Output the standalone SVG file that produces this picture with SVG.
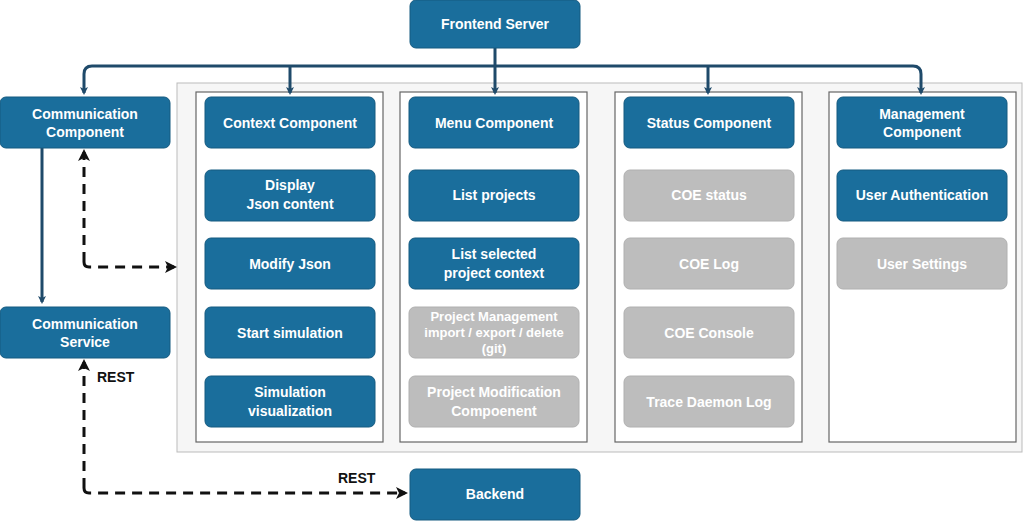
<svg xmlns="http://www.w3.org/2000/svg" width="1024" height="522" viewBox="0 0 1024 522">
<style>
.b{fill:#1a6e9c;stroke:#155a80;stroke-width:1}
.g{fill:#bdbdbd;stroke:#b0b0b0;stroke-width:1}
.t{font-family:"Liberation Sans",Arial,sans-serif;font-weight:bold;font-size:14px;fill:#fff;text-anchor:middle}
.tl{font-size:13px}
.c{fill:none;stroke:#1f4a6a;stroke-width:3}
.d{fill:none;stroke:#111;stroke-width:3;stroke-dasharray:10 7}
.lab{font-family:"Liberation Sans",Arial,sans-serif;font-weight:bold;font-size:14px;fill:#111}
</style>
<defs>
<marker id="a" markerWidth="8" markerHeight="8" refX="6" refY="4" orient="auto" markerUnits="userSpaceOnUse" viewBox="0 0 8 8"><path d="M0,0 L8,4 L0,8 L2,4 Z" fill="#1f4a6a"/></marker>
<marker id="k" markerWidth="12" markerHeight="12" refX="9" refY="6" orient="auto" markerUnits="userSpaceOnUse" viewBox="0 0 12 12"><path d="M0,0 L12,6 L0,12 L3,6 Z" fill="#111"/></marker>
</defs>
<rect x="177" y="83" width="845" height="369" fill="#f6f6f6" stroke="#bbb"/>
<g fill="#fff" stroke="#666" stroke-width="1.2">
<rect x="196" y="92" width="187" height="350"/>
<rect x="400" y="92" width="187" height="350"/>
<rect x="615" y="92" width="187" height="350"/>
<rect x="829" y="92" width="187" height="350"/>
</g>
<g id="connectors">
<path class="c" d="M495,48 V66 M92,66 H913"/>
<path class="c" d="M92,66 Q84,66 84,74 V93" marker-end="url(#a)"/>
<path class="c" d="M913,66 Q921,66 921,74 V93" marker-end="url(#a)"/>
<path class="c" d="M290,66 V93" marker-end="url(#a)"/>
<path class="c" d="M495,66 V93" marker-end="url(#a)"/>
<path class="c" d="M708,66 V93" marker-end="url(#a)"/>
<path class="c" d="M42,148 V302" marker-end="url(#a)"/>
<path class="d" d="M84,262 Q84,267 89,267 H174" marker-end="url(#k)"/>
<path class="d" d="M84,262 V152" marker-end="url(#k)"/>
<path class="d" d="M84,488 V362" marker-end="url(#k)"/>
<path class="d" d="M84,488 Q84,493 89,493 H405" marker-end="url(#k)"/>
<text class="lab" x="97" y="382">REST</text>
<text class="lab" x="338" y="483">REST</text>
</g>
<g id="frontend"><rect class="b" x="410" y="0" width="170" height="48" rx="6"/><text class="t" x="495" y="29">Frontend Server</text></g>
<g id="commcomp"><rect class="b" x="0" y="97" width="170" height="51" rx="6"/><text class="t" x="85" y="119">Communication</text><text class="t" x="85" y="137">Component</text></g>
<g id="commserv"><rect class="b" x="0" y="307" width="170" height="51" rx="6"/><text class="t" x="85" y="329">Communication</text><text class="t" x="85" y="347">Service</text></g>
<g id="backend"><rect class="b" x="410" y="469" width="170" height="51" rx="6"/><text class="t" x="495" y="499">Backend</text></g>
<g id="context"><rect class="b" x="205" y="97" width="170" height="51" rx="6"/><text class="t" x="290" y="128">Context Component</text></g>
<g id="display"><rect class="b" x="205" y="170" width="170" height="51" rx="6"/><text class="t" x="290" y="190">Display</text><text class="t" x="290" y="209">Json content</text></g>
<g id="modify"><rect class="b" x="205" y="238" width="170" height="51" rx="6"/><text class="t" x="290" y="269">Modify Json</text></g>
<g id="start"><rect class="b" x="205" y="307" width="170" height="51" rx="6"/><text class="t" x="290" y="338">Start simulation</text></g>
<g id="simvis"><rect class="b" x="205" y="376" width="170" height="51" rx="6"/><text class="t" x="290" y="397">Simulation</text><text class="t" x="290" y="416">visualization</text></g>
<g id="menu"><rect class="b" x="409" y="97" width="170" height="51" rx="6"/><text class="t" x="494" y="128">Menu Component</text></g>
<g id="listproj"><rect class="b" x="409" y="170" width="170" height="51" rx="6"/><text class="t" x="494" y="200">List projects</text></g>
<g id="listsel"><rect class="b" x="409" y="238" width="170" height="51" rx="6"/><text class="t" x="494" y="259">List selected</text><text class="t" x="494" y="278">project context</text></g>
<g id="projmgmt"><rect class="g" x="409" y="307" width="170" height="51" rx="6"/><text class="t tl" x="494" y="321">Project Management</text><text class="t tl" x="494" y="337">import / export / delete</text><text class="t tl" x="494" y="353">(git)</text></g>
<g id="projmod"><rect class="g" x="409" y="376" width="170" height="51" rx="6"/><text class="t" x="494" y="397">Project Modification</text><text class="t" x="494" y="416">Compoenent</text></g>
<g id="status"><rect class="b" x="624" y="97" width="170" height="51" rx="6"/><text class="t" x="709" y="128">Status Component</text></g>
<g id="coestatus"><rect class="g" x="624" y="170" width="170" height="51" rx="6"/><text class="t" x="709" y="200">COE status</text></g>
<g id="coelog"><rect class="g" x="624" y="238" width="170" height="51" rx="6"/><text class="t" x="709" y="269">COE Log</text></g>
<g id="coeconsole"><rect class="g" x="624" y="307" width="170" height="51" rx="6"/><text class="t" x="709" y="338">COE Console</text></g>
<g id="trace"><rect class="g" x="624" y="376" width="170" height="51" rx="6"/><text class="t" x="709" y="407">Trace Daemon Log</text></g>
<g id="mgmt"><rect class="b" x="837" y="97" width="170" height="51" rx="6"/><text class="t" x="922" y="119">Management</text><text class="t" x="922" y="137">Component</text></g>
<g id="userauth"><rect class="b" x="837" y="170" width="170" height="51" rx="6"/><text class="t" x="922" y="200">User Authentication</text></g>
<g id="usersettings"><rect class="g" x="837" y="238" width="170" height="51" rx="6"/><text class="t" x="922" y="269">User Settings</text></g>
</svg>
